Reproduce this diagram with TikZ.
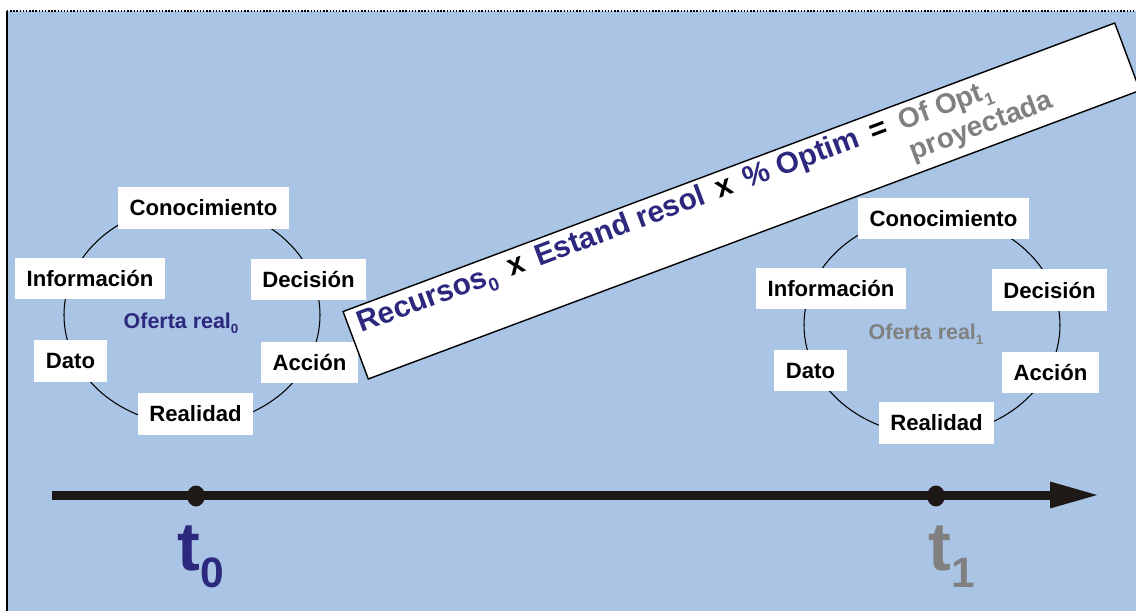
\documentclass[tikz,border=0pt]{standalone}
\usepackage{fontspec}
\setmainfont{Liberation Sans}
\usepackage{graphicx}
\usetikzlibrary{positioning, calc, arrows.meta, shapes.geometric}

\definecolor{fondo}{RGB}{169,196,228}
\definecolor{marino}{RGB}{44,40,125}
\definecolor{gris}{RGB}{128,128,128}
\definecolor{tinta}{RGB}{30,25,22}

% lowered index as in Recursos_0
\newcommand{\indice}[1]{\raisebox{-0.25em}{\scalebox{0.62}{#1}}}

\begin{document}
\begin{tikzpicture}[x=0.02cm, y=-0.02cm,
    etapa/.style={fill=white, font=\fontsize{12.6}{14}\selectfont\bfseries,
                  minimum height=0.84cm, inner xsep=0.23cm, inner ysep=0pt},
    ciclo/.style={draw=black, line width=0.6pt},
    oferta/.style={anchor=base, inner sep=0pt, font=\fontsize{12.2}{14}\selectfont\bfseries},
    punto/.style={ellipse, fill=tinta, minimum width=0.36cm, minimum height=0.42cm, inner sep=0pt},
    instante/.style={anchor=base west, inner sep=0pt, font=\fontsize{39}{40}\selectfont\bfseries}]
    \useasboundingbox (0,0) rectangle (1136,611);
    \clip (0,0) rectangle (1136,611);

    % background panel
    \fill[fondo] (7,11) rectangle (1150,620);
    \draw[line width=0.6pt] (7,620) -- (7,11);
    \draw[densely dotted, line width=0.8pt] (7,11) -- (1150,11);

    % cycle at t0
    \draw[ciclo] (192,315) ellipse [x radius=128, y radius=110];
    \node[etapa] (con0) at (203.5,208) {Conocimiento};
    \node[etapa] (inf0) at (90,278.5) {Información};
    \node[etapa] (dec0) at (308.5,279.5) {Decisión};
    \node[etapa] (dat0) at (70.5,361) {Dato};
    \node[etapa] (acc0) at (309.5,362.5) {Acción};
    \node[etapa] (rea0) at (195.5,414) {Realidad};
    \node[oferta, text=marino] (of0) at (181,328) {Oferta real\indice{0}};

    % cycle at t1
    \draw[ciclo] (932,325) ellipse [x radius=128, y radius=110];
    \node[etapa] (con1) at (943.5,218.5) {Conocimiento};
    \node[etapa] (inf1) at (831,288.5) {Información};
    \node[etapa] (dec1) at (1049.5,290) {Decisión};
    \node[etapa] (dat1) at (810.5,370.5) {Dato};
    \node[etapa] (acc1) at (1050.5,372.5) {Acción};
    \node[etapa] (rea1) at (936.5,423) {Realidad};
    \node[oferta, text=gris] (of1) at (926,339) {Oferta real\indice{1}};

    % slanted banner with the projection
    \node[draw, fill=white, line width=0.8pt, rotate=20.5, inner sep=0pt,
          minimum width=16.48cm, minimum height=1.44cm] (cinta) at (741.5,201) {};
    \node[anchor=base west, rotate=20.5, inner sep=0pt,
          font=\fontsize{17}{19}\selectfont\bfseries] (formula) at (361,333)
        {{\color{marino}Recursos\indice{0}}\hspace{0.45em}x\hspace{0.45em}%
         {\color{marino}Estand resol}\hspace{0.45em}x\hspace{0.45em}%
         {\color{marino}\% Optim}\hspace{0.45em}=\hspace{0.45em}%
         {\color{gris}\fontsize{16}{18}\selectfont
          \begin{tabular}[t]{@{}l@{}}Of Opt\indice{1}\\ proyectada\end{tabular}}};

    % time axis
    \coordinate (inicio) at (52,495);
    \coordinate (fin) at (1100,495);
    \draw[tinta, line width=0.18cm, -{Triangle[length=1cm, width=0.48cm]}] (inicio) -- (fin);
    \node[punto] (p0) at (196,496) {};
    \node[punto] (p1) at (936,496) {};
    \node[instante, text=marino] (t0) at (177,570) {t\indice{0}};
    \node[instante, text=gris] (t1) at (928,570) {t\indice{1}};
\end{tikzpicture}
\end{document}
